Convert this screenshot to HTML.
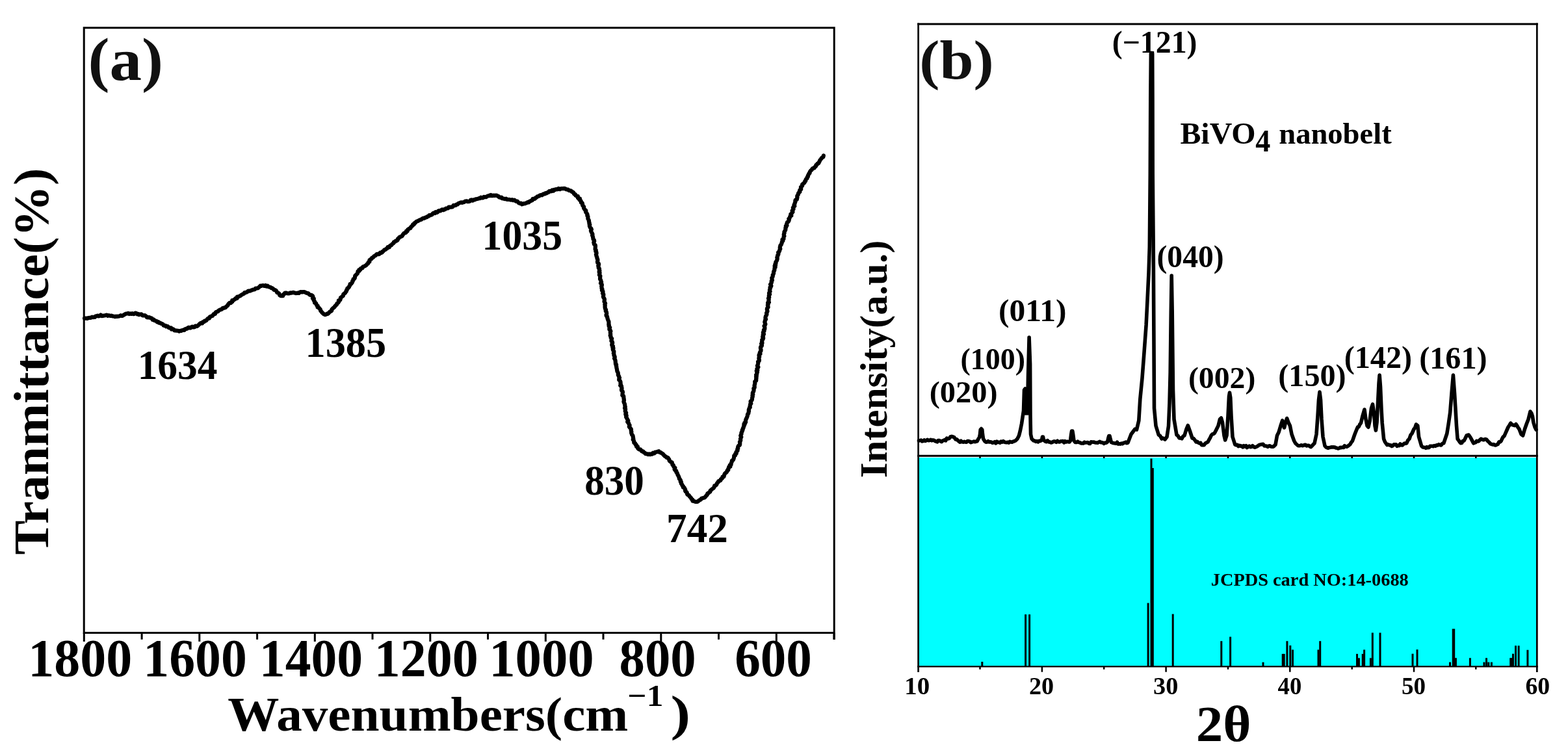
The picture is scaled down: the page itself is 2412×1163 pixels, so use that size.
<!DOCTYPE html>
<html><head><meta charset="utf-8"><title>FTIR and XRD of BiVO4 nanobelt</title>
<style>html,body{margin:0;padding:0;background:#fff;width:2412px;height:1163px;overflow:hidden}</style></head>
<body>
<svg width="2412" height="1163" viewBox="0 0 2412 1163" style="display:block">
<rect x="0" y="0" width="2412" height="1163" fill="#fff"/>
<rect x="1413.5" y="704" width="950" height="320.5" fill="#00ffff"/>
<path d="M130.0,489.7 L131.0,489.5 L132.4,489.6 L134.1,490.0 L135.8,489.0 L137.7,488.9 L139.7,488.8 L141.5,487.7 L143.0,488.1 L144.4,487.9 L146.0,487.9 L147.1,486.3 L148.8,486.2 L150.2,485.5 L152.0,486.4 L153.5,485.9 L154.9,484.5 L156.6,486.1 L158.0,486.0 L159.5,485.5 L161.1,485.5 L162.7,484.8 L164.3,484.7 L165.7,485.9 L167.4,485.2 L168.8,485.6 L170.2,485.9 L171.5,485.6 L173.3,486.4 L175.0,486.5 L176.7,487.2 L178.2,486.7 L179.8,486.9 L181.4,486.5 L183.0,486.6 L184.4,485.9 L185.7,485.2 L187.4,486.0 L188.8,485.5 L190.1,484.7 L191.4,484.0 L192.8,483.0 L194.5,482.5 L195.9,482.5 L197.2,481.9 L198.8,483.0 L200.3,482.3 L201.8,483.0 L203.4,482.1 L205.0,483.1 L206.5,482.9 L208.2,481.5 L209.7,482.0 L211.1,483.4 L212.7,482.9 L214.0,484.1 L215.7,483.5 L217.4,483.3 L218.6,484.7 L220.0,485.5 L221.8,485.2 L223.4,485.4 L224.8,486.4 L225.9,488.1 L227.6,488.4 L229.4,488.0 L230.7,488.8 L232.3,489.2 L233.8,489.9 L234.6,491.8 L236.6,491.6 L237.7,493.0 L239.3,493.5 L240.9,493.9 L241.9,495.5 L243.7,495.2 L244.6,496.7 L246.3,496.5 L247.6,497.7 L249.3,498.1 L250.7,498.9 L251.5,500.6 L253.0,501.0 L254.7,500.8 L255.6,502.3 L257.5,501.8 L258.7,502.7 L259.7,504.1 L261.3,504.4 L263.2,504.3 L263.8,506.5 L265.9,506.0 L267.2,506.9 L268.2,508.4 L270.0,508.3 L271.4,508.7 L272.9,508.7 L274.2,508.9 L275.7,509.7 L277.1,508.8 L278.8,509.0 L280.1,508.1 L281.7,507.6 L283.6,507.8 L284.8,506.3 L286.4,505.8 L288.0,505.7 L289.0,504.1 L290.6,503.6 L292.3,504.6 L293.7,504.2 L294.9,502.9 L296.3,502.6 L297.9,503.3 L299.5,503.2 L300.6,501.4 L302.7,502.0 L304.0,501.3 L305.1,500.2 L306.4,499.1 L307.5,497.8 L308.9,496.9 L311.2,497.4 L312.0,495.3 L313.9,495.1 L314.9,493.5 L316.8,493.5 L317.9,492.3 L318.8,491.0 L320.1,489.8 L322.0,489.6 L322.5,487.7 L323.8,487.0 L325.3,486.4 L326.8,485.9 L327.8,484.5 L328.8,483.0 L331.0,482.8 L331.4,481.0 L332.5,479.9 L334.0,479.5 L335.5,478.9 L336.5,477.5 L338.0,476.8 L339.6,476.3 L341.2,475.7 L342.2,474.2 L343.8,473.7 L345.7,473.6 L347.1,472.9 L347.9,471.6 L349.1,470.9 L350.4,469.7 L351.1,468.0 L352.1,466.9 L353.1,465.9 L355.2,466.1 L356.0,464.9 L357.3,464.3 L357.3,462.0 L359.3,461.9 L360.5,460.6 L361.8,460.1 L362.6,458.7 L364.6,458.8 L364.9,456.6 L366.8,456.3 L368.3,455.7 L369.9,455.0 L371.1,453.9 L372.5,453.0 L373.9,452.3 L375.4,451.7 L376.2,450.0 L377.7,449.9 L379.0,449.7 L380.7,448.8 L382.0,447.5 L383.7,447.6 L385.2,447.4 L386.5,446.6 L387.9,446.3 L389.2,445.6 L390.7,445.5 L392.1,445.1 L393.2,443.5 L395.1,443.5 L396.8,443.2 L398.1,442.1 L399.3,441.0 L400.4,439.7 L402.1,439.8 L403.6,439.2 L405.0,439.0 L406.4,439.9 L408.3,438.9 L409.7,440.5 L411.7,439.7 L413.0,441.2 L414.6,441.6 L416.2,441.8 L417.2,443.1 L418.5,443.2 L420.4,444.4 L421.4,445.9 L423.2,446.1 L424.6,446.9 L425.5,448.4 L426.3,450.0 L428.1,450.6 L429.4,451.6 L430.1,454.0 L431.9,455.1 L433.6,455.2 L435.2,455.2 L435.7,453.2 L437.4,452.2 L438.3,450.5 L439.9,450.5 L441.4,451.1 L443.1,451.3 L445.0,451.3 L446.4,450.4 L448.0,450.7 L449.6,450.3 L451.4,449.9 L453.2,450.6 L455.0,451.1 L456.5,451.0 L458.1,450.6 L459.8,450.9 L461.3,449.5 L462.9,449.1 L464.6,449.5 L466.0,449.1 L467.3,449.0 L469.4,449.6 L471.0,450.5 L472.6,450.9 L474.1,451.2 L475.6,452.8 L477.2,453.8 L479.1,453.9 L480.6,454.8 L481.4,456.3 L480.9,458.8 L482.8,459.4 L482.3,461.2 L483.1,462.6 L484.2,463.9 L484.0,465.7 L486.0,466.4 L486.6,467.9 L487.1,469.6 L488.7,470.4 L488.5,472.6 L490.4,473.3 L491.6,474.7 L492.8,476.1 L493.2,478.2 L494.5,479.3 L495.3,480.7 L496.9,482.1 L498.3,483.3 L499.8,484.1 L501.5,483.8 L503.0,482.7 L504.5,482.8 L505.9,481.2 L507.4,479.4 L508.9,478.9 L510.2,478.0 L510.4,476.1 L511.7,474.7 L512.8,473.6 L514.3,472.7 L515.2,471.2 L516.5,469.8 L518.0,468.4 L518.4,466.8 L519.9,465.9 L521.0,464.6 L520.8,462.3 L523.1,461.8 L523.7,460.1 L523.9,458.1 L525.3,457.1 L526.5,455.9 L527.9,454.9 L528.2,452.9 L529.4,451.8 L530.9,450.7 L531.7,449.2 L532.8,448.1 L533.0,446.3 L534.1,445.3 L534.3,443.5 L535.9,442.7 L536.9,441.5 L537.5,440.0 L538.5,438.7 L538.5,437.0 L540.4,436.4 L541.3,435.2 L542.1,433.9 L542.2,432.2 L543.4,431.1 L543.5,429.4 L545.2,428.7 L545.9,427.3 L546.0,425.6 L546.4,424.0 L547.7,423.0 L548.7,421.8 L549.9,420.7 L550.3,419.1 L550.5,417.4 L552.5,417.0 L552.4,415.1 L554.4,414.9 L554.8,413.1 L556.1,412.6 L557.6,412.5 L558.1,410.7 L559.4,409.9 L561.1,409.4 L562.7,408.4 L563.8,407.5 L564.7,406.2 L566.1,405.3 L566.6,403.5 L568.4,402.7 L568.4,400.3 L569.8,399.2 L571.4,398.2 L572.2,396.7 L573.9,396.1 L574.8,395.0 L575.6,393.9 L577.5,393.3 L578.5,392.1 L579.6,391.1 L580.9,390.8 L582.5,391.1 L583.9,390.6 L584.8,388.6 L586.6,388.9 L587.9,388.3 L588.7,386.8 L590.1,386.0 L591.0,384.5 L592.7,384.0 L594.1,382.9 L595.6,382.0 L596.4,380.1 L598.8,380.4 L599.4,378.8 L600.4,377.7 L602.0,377.3 L602.9,376.0 L604.0,374.9 L605.4,374.1 L605.9,372.2 L607.6,371.8 L608.7,370.6 L610.5,370.2 L611.7,369.1 L612.1,367.2 L613.5,366.5 L614.2,365.0 L615.8,364.3 L617.4,363.8 L618.7,362.9 L619.5,361.3 L620.5,360.0 L621.5,358.8 L623.2,358.3 L624.7,357.7 L624.9,355.6 L626.8,355.5 L627.0,353.5 L628.2,352.8 L629.5,351.6 L631.4,351.0 L632.1,349.3 L633.2,348.1 L634.7,347.2 L635.1,345.4 L637.0,345.1 L637.3,343.3 L638.9,342.8 L639.7,341.5 L641.1,340.5 L642.7,340.2 L643.9,339.4 L645.1,338.7 L646.4,338.2 L648.0,337.8 L649.3,336.5 L651.1,335.7 L652.5,335.8 L653.7,335.2 L654.9,334.4 L656.4,334.2 L657.6,333.1 L659.2,332.8 L660.1,331.1 L661.9,331.2 L663.4,330.5 L664.9,330.0 L665.9,328.3 L667.3,327.6 L669.1,328.0 L670.0,326.2 L672.0,326.9 L673.4,326.2 L674.3,324.4 L675.9,324.0 L677.6,324.4 L678.8,323.1 L680.2,322.3 L682.0,323.1 L683.2,322.0 L684.9,322.1 L686.0,320.5 L687.6,320.5 L689.2,320.4 L690.2,318.7 L691.8,318.5 L693.6,318.7 L695.2,318.5 L696.7,317.9 L697.5,315.9 L699.3,315.9 L700.9,315.8 L702.2,314.7 L703.8,314.5 L704.9,313.1 L706.3,312.4 L707.8,311.9 L709.2,311.3 L710.9,311.8 L712.4,311.3 L713.9,311.0 L715.2,309.9 L716.6,309.6 L718.1,309.3 L719.8,310.1 L721.4,310.0 L722.8,309.6 L723.9,307.8 L725.4,307.4 L727.2,308.6 L728.6,307.3 L730.3,307.5 L731.7,306.3 L733.4,306.1 L735.1,305.8 L736.7,305.2 L738.3,305.1 L739.7,303.7 L741.5,304.5 L743.1,304.4 L744.3,302.9 L745.9,303.0 L747.7,303.1 L749.2,302.1 L750.6,301.4 L752.2,300.9 L753.8,301.1 L755.1,299.9 L756.8,301.2 L758.2,300.9 L759.6,300.6 L760.9,300.9 L762.5,300.7 L764.1,300.7 L765.4,301.5 L766.9,302.0 L767.9,303.4 L769.5,303.8 L771.3,303.5 L772.4,305.2 L774.1,305.4 L775.5,305.8 L777.0,306.2 L778.6,305.7 L780.0,306.8 L781.6,307.0 L783.2,306.9 L784.7,307.3 L786.2,307.6 L787.9,307.2 L789.3,308.2 L791.2,307.6 L792.5,308.7 L793.9,309.7 L795.8,309.7 L797.0,311.1 L798.2,312.3 L799.8,312.9 L801.5,312.7 L802.8,314.3 L804.5,313.8 L805.8,313.1 L807.3,313.3 L808.6,312.7 L810.0,312.1 L811.3,311.2 L813.2,311.4 L814.3,310.1 L815.8,309.4 L817.3,308.6 L818.9,308.2 L819.6,305.9 L821.6,306.1 L823.0,305.7 L823.9,304.2 L825.3,303.8 L826.4,302.5 L827.9,302.0 L829.4,301.6 L830.5,300.4 L832.0,300.0 L833.9,300.3 L835.0,299.0 L836.3,298.3 L838.0,298.4 L839.1,297.2 L840.7,297.3 L842.0,296.2 L843.6,295.9 L844.7,294.1 L846.5,294.5 L848.2,294.2 L849.3,292.5 L851.3,293.6 L852.4,291.8 L854.0,292.0 L855.3,291.1 L856.8,291.3 L858.1,291.2 L859.2,290.0 L861.4,291.2 L863.1,290.1 L864.7,290.1 L866.2,290.2 L867.7,289.9 L869.2,290.0 L870.6,291.1 L872.1,291.4 L873.8,291.5 L874.9,293.0 L876.7,293.2 L878.4,293.6 L879.6,294.9 L881.1,295.5 L882.3,296.5 L883.1,298.4 L884.9,298.9 L885.5,300.6 L886.9,301.5 L888.9,301.8 L888.8,304.3 L889.7,305.3 L891.9,305.5 L891.5,307.6 L893.0,308.4 L893.8,309.8 L893.8,311.6 L895.7,312.4 L896.1,314.1 L896.1,315.8 L897.1,317.0 L898.2,318.2 L898.0,320.0 L898.9,321.4 L899.8,322.7 L901.3,323.9 L901.0,325.8 L901.9,327.3 L902.8,328.6 L903.6,330.0 L903.3,331.7 L904.4,333.0 L904.4,334.8 L904.4,336.4 L905.3,337.9 L906.0,339.3 L905.9,341.0 L906.6,342.5 L906.4,344.1 L907.3,345.5 L906.8,347.3 L907.3,348.7 L908.0,350.2 L909.3,351.5 L909.9,352.9 L908.9,354.7 L909.4,356.2 L910.1,357.7 L910.9,359.0 L911.5,360.5 L911.1,362.2 L911.8,363.6 L912.1,365.1 L912.4,366.6 L912.6,368.1 L913.9,369.4 L914.2,371.0 L913.3,372.9 L913.7,374.3 L914.0,375.8 L915.7,377.0 L915.9,378.6 L915.8,380.2 L915.7,381.8 L915.6,383.4 L916.8,384.8 L916.3,386.6 L917.4,388.0 L917.6,389.7 L916.9,391.4 L917.4,392.9 L917.6,394.4 L918.4,395.9 L918.5,397.5 L919.3,399.0 L919.4,400.7 L919.0,402.4 L919.2,404.1 L920.9,405.4 L921.1,407.0 L920.2,408.8 L920.7,410.3 L920.7,411.9 L922.0,413.3 L921.8,415.0 L922.4,416.5 L921.6,418.2 L922.6,419.7 L922.3,421.3 L921.9,423.0 L923.4,424.4 L923.2,426.0 L923.1,427.7 L923.0,429.3 L924.1,430.7 L924.4,432.3 L925.1,433.8 L924.0,435.6 L925.6,437.0 L925.9,438.6 L925.2,440.3 L925.6,441.9 L925.5,443.5 L926.5,445.0 L925.9,446.7 L927.4,448.0 L927.5,449.6 L927.0,451.3 L928.3,452.6 L928.3,454.2 L927.9,455.9 L928.2,457.4 L929.3,458.8 L929.9,460.4 L929.8,462.1 L929.5,463.9 L930.4,465.5 L931.1,466.8 L930.3,468.5 L930.8,470.0 L930.5,471.7 L930.7,473.4 L931.0,475.0 L932.1,476.6 L931.7,478.3 L932.8,479.8 L933.1,481.4 L933.2,482.9 L932.5,484.5 L932.8,485.9 L934.1,487.0 L934.1,488.1 L934.6,490.2 L934.9,491.2 L935.2,491.9 L935.6,492.9 L936.4,494.7 L936.5,498.2 L936.3,499.3 L936.9,500.2 L936.6,501.5 L937.3,502.6 L938.2,503.8 L937.4,505.3 L937.4,506.7 L938.7,508.0 L939.4,509.5 L938.8,511.2 L939.0,512.8 L939.2,514.4 L938.7,516.2 L939.6,517.7 L939.6,519.5 L941.2,520.9 L940.6,522.8 L940.4,524.5 L941.9,526.0 L942.2,527.7 L941.3,529.5 L941.3,531.2 L943.0,532.6 L942.3,534.3 L943.5,535.6 L942.7,537.3 L943.1,538.7 L944.1,539.9 L944.4,541.6 L943.8,543.4 L944.5,544.9 L944.4,546.6 L945.4,548.0 L945.8,549.5 L945.0,551.2 L945.8,552.6 L946.4,554.0 L946.7,555.4 L946.7,556.9 L947.0,558.3 L946.9,559.8 L948.1,561.0 L947.7,562.6 L948.3,564.0 L948.3,565.4 L948.7,566.8 L949.0,568.3 L949.2,569.7 L949.4,571.2 L950.3,572.6 L950.8,574.0 L950.8,575.5 L950.9,577.0 L951.9,578.3 L952.2,579.8 L953.0,581.1 L952.3,582.8 L952.2,584.4 L953.6,585.6 L954.3,586.9 L954.6,588.4 L954.5,589.9 L955.0,591.4 L954.2,593.1 L956.1,594.2 L956.0,595.8 L956.6,597.2 L956.0,598.9 L956.1,600.5 L957.5,601.8 L958.0,603.3 L957.6,605.0 L957.6,606.5 L957.3,608.1 L959.2,609.4 L959.3,611.0 L959.5,612.6 L959.7,614.3 L960.0,616.0 L959.4,617.8 L959.9,619.4 L960.8,621.0 L961.2,622.7 L961.3,624.4 L961.8,626.0 L961.0,627.8 L962.1,629.3 L961.9,630.9 L961.7,632.5 L962.5,633.9 L963.2,635.2 L962.3,636.8 L962.5,638.1 L963.7,639.1 L963.6,640.3 L963.1,641.5 L964.5,643.9 L965.5,645.8 L966.3,647.1 L965.2,648.9 L965.9,649.8 L967.0,650.4 L967.2,651.6 L967.7,652.9 L968.6,654.3 L967.8,656.3 L968.9,657.8 L970.1,659.2 L971.0,660.7 L970.7,662.6 L971.4,664.2 L971.1,665.9 L971.7,667.4 L972.2,668.9 L973.4,670.2 L973.8,671.7 L973.8,673.2 L974.3,674.6 L973.7,676.3 L974.8,677.4 L975.2,679.2 L975.3,681.0 L977.2,682.0 L977.5,683.7 L979.0,684.7 L978.9,686.7 L980.9,687.1 L980.8,689.2 L981.9,690.4 L983.1,691.4 L985.1,691.4 L986.1,692.6 L987.1,694.3 L989.2,694.4 L990.5,695.9 L992.0,696.7 L993.2,698.2 L995.2,698.2 L996.7,699.1 L998.4,698.3 L1000.0,699.2 L1001.6,698.3 L1003.4,698.6 L1004.5,696.6 L1006.6,697.3 L1007.9,695.6 L1009.9,695.4 L1011.7,694.8 L1013.6,694.2 L1014.6,695.9 L1016.5,696.1 L1017.9,697.3 L1019.6,698.2 L1020.8,699.7 L1021.9,700.8 L1023.0,702.1 L1024.6,702.5 L1025.6,703.9 L1027.5,704.1 L1028.4,705.7 L1029.3,706.8 L1029.6,708.6 L1030.7,709.6 L1031.9,710.7 L1033.7,711.4 L1034.1,713.2 L1034.5,715.0 L1035.9,715.8 L1036.1,717.4 L1037.0,718.7 L1038.4,719.8 L1037.6,722.0 L1038.6,723.4 L1040.3,724.4 L1040.3,726.3 L1041.5,727.5 L1042.1,729.0 L1042.5,730.5 L1043.5,731.8 L1044.1,733.4 L1044.7,734.9 L1044.9,736.6 L1046.2,737.7 L1047.0,739.1 L1046.7,740.8 L1048.0,741.8 L1047.8,743.9 L1049.1,745.2 L1049.5,746.8 L1050.9,747.9 L1050.8,749.6 L1052.7,750.4 L1053.4,751.9 L1054.2,753.1 L1054.0,755.0 L1054.8,756.3 L1056.4,757.2 L1056.9,758.7 L1057.1,760.4 L1058.3,761.4 L1059.9,762.1 L1060.7,763.6 L1061.9,764.9 L1063.1,766.2 L1063.8,767.9 L1065.4,768.6 L1065.5,770.7 L1067.1,770.8 L1068.7,771.6 L1070.3,772.0 L1071.9,771.9 L1073.7,771.4 L1074.9,770.1 L1076.3,769.3 L1078.0,768.4 L1079.1,766.8 L1081.1,766.3 L1082.7,765.7 L1084.3,765.2 L1085.4,763.8 L1086.5,762.5 L1087.7,761.3 L1088.3,759.3 L1089.8,758.5 L1090.9,757.4 L1092.4,756.5 L1092.7,754.5 L1094.2,753.5 L1095.5,752.3 L1097.1,751.2 L1098.1,750.2 L1098.8,748.8 L1099.1,747.2 L1101.0,746.7 L1102.2,745.7 L1102.7,744.1 L1103.5,742.7 L1104.7,741.8 L1105.2,740.2 L1107.0,739.7 L1108.4,739.0 L1108.8,737.3 L1110.1,736.4 L1111.2,735.5 L1111.4,733.6 L1113.4,733.3 L1113.9,731.7 L1114.3,730.0 L1114.9,728.7 L1116.0,727.6 L1117.3,726.7 L1118.3,725.5 L1118.6,723.8 L1120.3,723.0 L1120.2,721.1 L1121.1,719.9 L1121.2,718.3 L1123.3,717.8 L1122.7,715.6 L1124.6,714.7 L1124.6,713.0 L1125.2,711.6 L1125.8,710.2 L1125.9,708.6 L1127.6,707.6 L1128.4,706.2 L1128.8,704.7 L1129.2,703.1 L1129.2,701.2 L1131.1,700.4 L1131.0,698.4 L1132.7,697.5 L1132.4,695.5 L1133.6,694.3 L1134.6,693.1 L1134.2,691.2 L1135.3,690.0 L1135.0,688.4 L1135.4,687.0 L1136.1,685.7 L1137.9,684.7 L1138.2,683.1 L1138.2,681.4 L1137.9,679.8 L1138.9,678.5 L1139.3,677.0 L1138.9,675.2 L1139.6,673.7 L1140.3,672.2 L1139.2,670.3 L1139.8,668.8 L1140.6,667.4 L1140.4,665.8 L1141.2,664.4 L1141.9,663.1 L1141.7,661.7 L1142.7,660.7 L1142.7,659.2 L1143.7,657.9 L1143.9,656.1 L1145.0,654.2 L1144.4,652.7 L1145.8,651.9 L1145.3,650.4 L1147.1,649.5 L1146.9,647.9 L1147.1,646.5 L1147.5,645.0 L1148.3,643.6 L1148.9,642.1 L1149.5,640.6 L1149.9,639.0 L1150.0,637.3 L1151.3,635.9 L1151.5,634.2 L1152.0,632.6 L1151.7,630.8 L1152.2,629.2 L1152.8,627.8 L1153.8,626.6 L1153.5,625.0 L1153.9,623.5 L1154.1,622.0 L1155.3,620.8 L1154.7,619.0 L1154.6,617.4 L1156.2,616.1 L1156.9,614.7 L1157.0,613.1 L1157.2,611.5 L1157.8,610.0 L1157.4,608.3 L1158.3,606.9 L1157.7,605.1 L1158.2,603.6 L1159.1,602.2 L1159.5,600.7 L1159.6,599.2 L1159.3,597.5 L1160.7,596.3 L1160.7,594.7 L1160.5,593.1 L1160.9,591.6 L1161.3,590.2 L1161.3,588.6 L1161.2,587.1 L1163.0,585.8 L1163.3,584.3 L1163.0,582.8 L1163.6,581.3 L1163.0,579.7 L1163.9,578.3 L1163.1,576.7 L1164.3,575.3 L1164.2,573.8 L1165.0,572.4 L1163.8,570.7 L1165.3,569.4 L1164.4,567.6 L1165.4,566.2 L1166.4,564.7 L1164.9,562.8 L1165.6,561.3 L1166.0,559.7 L1166.3,558.2 L1166.0,556.5 L1167.8,555.1 L1167.9,553.5 L1167.4,551.8 L1167.5,550.3 L1168.2,548.8 L1167.5,547.1 L1167.7,545.6 L1169.5,544.4 L1168.7,542.8 L1169.3,541.4 L1170.3,540.1 L1170.6,538.4 L1170.1,536.6 L1169.9,534.9 L1170.3,533.4 L1171.8,532.1 L1172.0,530.5 L1171.1,528.8 L1172.5,527.6 L1171.9,525.9 L1172.4,524.5 L1172.2,522.9 L1173.7,521.6 L1174.2,520.1 L1173.1,518.3 L1174.1,516.8 L1173.6,515.3 L1175.0,514.0 L1173.8,512.2 L1174.1,510.8 L1175.5,509.4 L1174.9,507.7 L1176.2,506.3 L1176.4,504.8 L1176.3,503.2 L1175.5,501.5 L1176.7,500.1 L1177.4,498.6 L1176.7,496.9 L1176.3,495.3 L1176.8,493.9 L1177.1,492.4 L1178.1,491.1 L1177.4,489.3 L1177.6,487.7 L1178.0,486.2 L1179.0,484.8 L1179.5,483.3 L1179.0,481.7 L1179.8,480.3 L1180.5,478.9 L1180.2,477.3 L1179.8,475.7 L1180.2,474.1 L1181.6,472.8 L1181.4,471.1 L1180.9,469.3 L1181.8,467.7 L1181.1,466.2 L1182.9,465.0 L1182.1,463.4 L1182.5,462.0 L1182.7,460.5 L1182.0,458.9 L1183.2,457.4 L1182.8,455.8 L1182.9,454.3 L1184.1,452.8 L1183.0,451.1 L1183.6,449.6 L1184.6,448.2 L1183.9,446.6 L1184.2,445.1 L1184.9,443.7 L1184.5,442.1 L1186.0,440.9 L1186.4,439.6 L1185.0,437.5 L1186.1,436.0 L1186.9,434.4 L1186.6,432.6 L1187.9,431.1 L1187.5,429.3 L1187.3,427.6 L1188.3,426.2 L1188.8,424.7 L1188.7,423.0 L1189.6,421.7 L1190.1,420.3 L1190.0,418.8 L1190.3,417.4 L1191.2,416.2 L1191.4,414.3 L1191.5,412.5 L1192.6,411.1 L1191.6,409.3 L1193.0,408.1 L1192.3,406.5 L1193.5,405.2 L1193.2,403.6 L1194.0,402.2 L1195.0,400.7 L1195.4,399.3 L1195.8,397.9 L1195.3,396.1 L1196.1,394.7 L1196.1,393.0 L1197.2,391.6 L1197.5,390.0 L1197.1,388.3 L1198.5,387.0 L1199.2,385.6 L1199.4,384.1 L1200.3,382.8 L1199.7,380.8 L1200.1,379.2 L1200.4,377.6 L1201.7,376.5 L1202.1,375.0 L1202.7,373.5 L1202.9,371.9 L1204.3,370.6 L1203.5,368.6 L1205.5,367.3 L1205.3,365.8 L1205.6,364.4 L1206.4,363.1 L1205.7,361.4 L1205.9,359.9 L1206.6,358.4 L1206.4,356.8 L1207.3,355.3 L1208.2,353.9 L1208.4,352.4 L1208.3,350.7 L1209.3,349.4 L1208.8,347.7 L1210.5,346.7 L1210.0,344.8 L1210.6,343.5 L1211.0,342.0 L1212.5,341.1 L1213.3,339.8 L1213.8,338.5 L1213.3,336.6 L1214.5,335.6 L1215.0,334.2 L1215.4,332.7 L1217.3,331.8 L1216.3,329.6 L1217.7,328.4 L1218.6,327.2 L1219.5,326.0 L1218.6,324.1 L1219.6,322.8 L1220.6,321.5 L1219.8,319.6 L1220.7,318.2 L1222.3,317.0 L1221.5,315.1 L1222.4,313.7 L1222.7,312.1 L1223.4,310.7 L1223.3,309.1 L1223.7,307.6 L1225.9,306.8 L1225.9,305.4 L1226.5,303.8 L1226.2,301.9 L1226.9,300.4 L1228.0,299.1 L1228.0,297.5 L1229.0,296.2 L1230.4,295.1 L1230.0,293.4 L1230.6,292.0 L1232.2,291.2 L1232.2,289.6 L1231.9,287.9 L1233.0,287.0 L1234.2,285.7 L1234.1,283.8 L1235.3,282.7 L1236.6,281.8 L1237.7,280.7 L1238.0,279.2 L1239.2,278.3 L1239.4,276.7 L1240.1,275.4 L1241.5,274.5 L1241.6,272.8 L1242.9,271.8 L1242.8,270.0 L1243.7,268.8 L1244.2,267.3 L1245.5,266.3 L1245.7,264.7 L1246.5,263.4 L1247.4,262.2 L1248.7,261.3 L1249.5,259.8 L1250.8,258.8 L1252.6,258.4 L1253.5,256.9 L1254.9,256.0 L1255.3,254.0 L1256.7,253.2 L1257.4,251.7 L1259.3,251.2 L1259.8,249.6 L1260.7,248.1 L1261.4,246.3 L1262.6,245.0 L1263.6,243.6 L1264.7,242.4 L1266.3,241.6 L1266.6,240.4 L1266.8,239.4" fill="none" stroke="#000" stroke-width="6.2" stroke-linejoin="round" stroke-linecap="round"/>
<path d="M1413.5,678.0 L1415.1,677.6 L1416.8,677.1 L1418.4,678.9 L1420.0,678.5 L1421.7,677.0 L1423.3,678.3 L1425.0,677.6 L1426.7,676.4 L1428.3,677.7 L1430.0,677.5 L1431.7,676.3 L1433.3,677.8 L1435.0,676.9 L1436.7,677.2 L1438.3,678.5 L1440.0,679.0 L1441.7,679.9 L1443.3,677.5 L1445.0,677.6 L1446.7,678.7 L1448.3,679.6 L1450.0,678.0 L1451.6,677.6 L1453.2,676.5 L1454.8,677.7 L1456.4,674.1 L1458.0,675.0 L1460.0,674.6 L1462.0,672.0 L1464.0,671.3 L1466.0,672.0 L1468.0,672.9 L1470.0,676.0 L1471.7,675.8 L1473.3,677.4 L1475.0,679.0 L1476.7,680.2 L1478.3,678.3 L1480.0,679.8 L1481.7,680.1 L1483.3,679.4 L1485.0,680.0 L1486.7,680.2 L1488.3,678.6 L1490.0,678.6 L1491.7,679.1 L1493.3,680.6 L1495.0,680.0 L1496.6,679.6 L1498.2,679.0 L1499.8,679.7 L1501.4,679.1 L1503.0,679.0 L1504.8,675.4 L1506.5,673.0 L1507.5,668.0 L1508.2,661.0 L1509.5,659.5 L1510.8,661.0 L1511.5,668.0 L1512.5,675.0 L1515.0,679.0 L1516.7,680.1 L1518.3,680.0 L1520.0,678.7 L1521.7,679.9 L1523.3,679.9 L1525.0,680.0 L1526.7,681.3 L1528.3,680.9 L1530.0,679.6 L1531.7,681.9 L1533.3,679.2 L1535.0,680.5 L1536.7,680.2 L1538.3,681.2 L1540.0,679.1 L1541.7,680.1 L1543.3,678.6 L1545.0,680.0 L1546.7,680.5 L1548.3,680.8 L1550.0,680.2 L1551.7,681.2 L1553.3,679.4 L1555.0,680.0 L1556.8,680.1 L1558.5,679.3 L1560.2,678.8 L1562.0,678.0 L1565.0,675.0 L1567.5,670.0 L1569.5,662.0 L1571.5,652.0 L1573.0,642.0 L1574.5,632.0 L1575.5,600.0 L1577.0,598.0 L1578.0,636.0 L1579.5,600.0 L1580.5,636.0 L1581.5,580.0 L1583.1,519.0 L1584.6,560.0 L1585.0,640.0 L1585.5,668.0 L1587.0,675.0 L1590.0,678.0 L1591.7,678.0 L1593.3,679.4 L1595.0,678.5 L1596.7,679.9 L1598.3,678.4 L1600.0,678.5 L1602.5,677.0 L1603.5,672.0 L1604.5,672.0 L1605.5,677.0 L1608.0,679.0 L1609.7,679.6 L1611.4,677.7 L1613.1,679.9 L1614.9,679.8 L1616.6,680.9 L1618.3,680.5 L1620.0,679.5 L1621.7,678.9 L1623.3,679.3 L1625.0,680.3 L1626.7,678.3 L1628.3,679.8 L1630.0,680.0 L1631.7,678.9 L1633.3,678.8 L1635.0,678.6 L1636.7,680.9 L1638.3,678.8 L1640.0,680.0 L1641.7,679.2 L1643.3,679.7 L1645.0,680.0 L1646.5,678.0 L1647.6,669.0 L1648.6,663.0 L1649.8,663.0 L1650.8,669.0 L1652.0,678.0 L1654.0,680.4 L1656.0,680.5 L1657.8,679.2 L1659.5,680.5 L1661.2,680.8 L1663.0,682.0 L1664.8,681.8 L1666.5,682.0 L1668.2,680.2 L1670.0,681.0 L1671.7,680.7 L1673.3,680.5 L1675.0,682.2 L1676.7,682.5 L1678.3,679.9 L1680.0,680.0 L1681.7,680.1 L1683.3,680.1 L1685.0,681.0 L1686.7,681.0 L1688.3,681.3 L1690.0,680.2 L1691.7,679.4 L1693.3,680.7 L1695.0,680.6 L1696.7,681.2 L1698.3,682.4 L1700.0,681.0 L1701.8,681.1 L1703.5,680.0 L1704.8,674.0 L1705.8,670.5 L1707.0,670.5 L1708.0,675.0 L1709.5,680.5 L1712.0,681.5 L1713.6,681.6 L1715.2,682.0 L1716.9,682.3 L1718.5,680.3 L1720.1,683.1 L1721.8,682.8 L1723.4,683.1 L1725.0,682.0 L1726.7,682.8 L1728.3,681.3 L1730.0,681.2 L1731.7,680.1 L1733.3,681.6 L1735.0,681.0 L1740.0,668.0 L1743.0,664.0 L1746.0,660.0 L1748.5,661.0 L1751.8,647.0 L1753.8,614.0 L1757.0,581.6 L1759.5,549.0 L1763.1,500.0 L1765.0,462.0 L1767.0,420.0 L1768.3,380.0 L1769.3,268.0 L1769.8,155.0 L1770.4,82.5 L1772.7,82.5 L1773.0,155.0 L1773.2,268.0 L1774.2,380.0 L1775.5,628.0 L1778.0,655.0 L1782.3,669.0 L1784.7,670.6 L1787.0,675.0 L1788.7,673.9 L1790.3,674.7 L1792.0,676.0 L1795.0,672.0 L1797.5,655.5 L1799.0,620.0 L1800.2,572.8 L1801.3,480.0 L1802.2,424.0 L1803.2,480.0 L1804.5,600.0 L1806.0,645.0 L1810.0,669.0 L1812.0,670.4 L1814.0,674.0 L1816.0,673.9 L1818.0,674.8 L1820.0,671.0 L1822.0,670.0 L1825.0,660.0 L1827.3,654.5 L1830.0,662.0 L1834.0,674.0 L1836.0,674.4 L1838.0,676.9 L1840.0,680.0 L1841.7,679.4 L1843.3,680.9 L1845.0,682.0 L1846.8,681.2 L1848.5,684.6 L1850.2,684.5 L1852.0,684.8 L1854.0,682.1 L1856.0,680.8 L1858.0,680.0 L1859.8,676.5 L1861.5,673.6 L1863.2,669.8 L1865.0,668.0 L1866.7,667.4 L1868.3,666.2 L1870.0,663.0 L1872.0,658.9 L1874.0,655.0 L1876.5,645.0 L1878.5,643.0 L1880.5,650.0 L1883.0,670.0 L1884.7,677.0 L1887.0,670.0 L1889.0,640.0 L1890.5,610.0 L1891.5,604.0 L1892.8,612.0 L1894.0,640.0 L1896.0,672.0 L1899.8,684.0 L1901.5,684.8 L1903.3,684.3 L1905.0,686.5 L1906.7,685.3 L1908.3,686.2 L1910.0,686.0 L1911.7,687.9 L1913.3,685.8 L1915.0,687.0 L1916.7,685.6 L1918.3,688.6 L1920.0,687.3 L1921.7,686.2 L1923.3,687.6 L1925.0,687.5 L1926.7,685.7 L1928.3,687.1 L1930.0,688.3 L1931.7,687.7 L1933.3,686.9 L1935.0,686.0 L1937.0,684.4 L1939.0,683.9 L1941.0,683.5 L1943.0,683.3 L1945.0,686.0 L1947.0,686.0 L1948.6,686.3 L1950.2,687.3 L1951.8,686.1 L1953.4,685.9 L1955.0,687.0 L1956.8,687.2 L1958.5,687.1 L1960.2,685.9 L1962.0,684.0 L1964.5,670.0 L1967.0,665.0 L1970.0,655.0 L1972.7,647.0 L1975.5,658.0 L1977.5,650.0 L1979.6,643.5 L1982.0,650.0 L1984.4,655.0 L1987.0,668.0 L1990.6,678.0 L1992.8,682.0 L1995.0,684.0 L1996.7,685.5 L1998.3,685.8 L2000.0,685.5 L2001.7,684.7 L2003.3,685.7 L2005.0,685.3 L2006.7,684.3 L2008.3,684.4 L2010.0,686.0 L2011.6,685.3 L2013.2,685.3 L2014.8,686.7 L2016.4,687.6 L2018.0,686.2 L2020.0,683.9 L2022.0,682.0 L2025.0,668.0 L2027.0,640.0 L2028.5,615.0 L2030.0,603.0 L2031.5,615.0 L2033.0,645.0 L2035.0,672.0 L2038.0,686.0 L2039.8,688.0 L2041.5,688.8 L2043.2,689.3 L2045.0,688.5 L2046.7,688.2 L2048.3,687.8 L2050.0,687.9 L2051.7,687.9 L2053.3,688.0 L2055.0,689.0 L2056.7,689.2 L2058.3,689.9 L2060.0,689.6 L2061.7,688.3 L2063.3,688.7 L2065.0,688.0 L2066.7,688.5 L2068.3,685.7 L2070.0,687.0 L2071.7,687.3 L2073.3,686.4 L2075.0,685.0 L2076.8,683.6 L2078.6,680.5 L2080.4,678.4 L2084.0,668.0 L2087.0,660.5 L2088.6,657.0 L2090.2,656.5 L2091.9,652.6 L2093.5,650.7 L2096.0,640.0 L2098.9,630.0 L2101.0,645.0 L2103.0,655.0 L2104.9,657.2 L2107.0,648.0 L2109.5,628.0 L2111.5,622.0 L2113.5,635.0 L2115.0,655.0 L2116.4,662.1 L2118.0,650.0 L2119.5,620.0 L2121.0,590.0 L2122.1,577.0 L2123.5,595.0 L2125.0,630.0 L2126.2,650.7 L2128.6,675.2 L2130.3,679.6 L2132.0,682.0 L2133.9,684.5 L2135.7,683.7 L2137.6,685.0 L2139.2,684.7 L2140.9,686.4 L2142.5,685.7 L2144.1,683.9 L2145.8,683.8 L2147.4,683.9 L2149.1,686.3 L2150.7,685.0 L2152.3,685.6 L2153.9,683.0 L2155.6,684.8 L2157.2,684.9 L2158.8,683.4 L2160.4,682.0 L2162.1,682.3 L2163.7,681.7 L2165.8,677.2 L2168.0,675.0 L2169.9,669.4 L2171.9,667.0 L2175.0,660.0 L2176.7,658.0 L2178.4,653.0 L2180.8,655.0 L2182.5,672.0 L2186.6,686.0 L2188.3,687.6 L2190.0,688.3 L2191.6,688.2 L2193.2,689.3 L2194.8,687.6 L2196.4,688.8 L2198.1,688.5 L2199.7,686.3 L2201.3,686.3 L2202.9,686.2 L2204.5,686.7 L2206.2,685.5 L2208.0,686.2 L2209.8,684.8 L2211.5,685.0 L2213.2,683.7 L2215.0,684.5 L2216.9,684.9 L2218.9,682.2 L2220.8,681.8 L2225.8,667.0 L2228.5,650.0 L2230.7,634.4 L2233.0,605.0 L2235.4,577.0 L2237.5,605.0 L2238.8,626.2 L2240.5,655.0 L2242.1,675.2 L2243.7,677.3 L2245.4,679.9 L2247.0,681.8 L2248.6,681.4 L2250.2,678.2 L2251.9,678.2 L2253.5,675.2 L2256.0,670.0 L2259.2,669.0 L2262.0,673.0 L2264.3,677.4 L2266.6,681.8 L2268.2,681.2 L2269.9,680.6 L2271.5,678.3 L2273.2,679.0 L2274.8,678.5 L2276.5,676.7 L2278.3,675.2 L2280.0,676.0 L2282.3,676.7 L2284.6,675.5 L2286.8,676.2 L2289.0,679.0 L2290.8,680.4 L2292.6,682.7 L2294.4,683.4 L2296.0,684.0 L2297.7,683.6 L2299.3,684.7 L2300.9,685.0 L2302.5,683.9 L2304.2,683.3 L2305.8,679.8 L2307.5,680.0 L2309.1,678.5 L2310.7,674.8 L2312.3,672.0 L2314.0,670.7 L2315.6,667.0 L2317.8,662.0 L2320.0,657.0 L2321.9,654.2 L2323.8,651.0 L2325.9,653.3 L2328.0,654.0 L2330.0,654.6 L2332.0,652.5 L2333.6,654.8 L2335.3,657.9 L2336.9,660.0 L2340.0,668.0 L2342.6,670.0 L2345.5,660.0 L2348.3,652.0 L2351.0,645.0 L2354.0,633.0 L2356.0,636.0 L2357.3,640.0 L2358.9,650.0 L2361.0,657.0 L2363.0,661.0" fill="none" stroke="#000" stroke-width="5.6" stroke-linejoin="round" stroke-linecap="round"/>
<rect x="1509.3" y="1018.0" width="3" height="7.5" fill="#000"/>
<rect x="1576.1" y="945.2" width="3" height="80.3" fill="#000"/>
<rect x="1582.1" y="945.2" width="3" height="80.3" fill="#000"/>
<rect x="1764.6" y="927.6" width="3" height="97.9" fill="#000"/>
<rect x="1769.5" y="705.5" width="3" height="320.0" fill="#000"/>
<rect x="1771.8" y="720.0" width="3" height="305.5" fill="#000"/>
<rect x="1802.7" y="944.6" width="3" height="80.9" fill="#000"/>
<rect x="1877.3" y="986.2" width="3" height="39.3" fill="#000"/>
<rect x="1891.1" y="979.6" width="3" height="45.9" fill="#000"/>
<rect x="1941.5" y="1018.7" width="3" height="6.8" fill="#000"/>
<rect x="1971.7" y="1005.9" width="3" height="19.6" fill="#000"/>
<rect x="1973.7" y="1005.9" width="3" height="19.6" fill="#000"/>
<rect x="1978.4" y="986.2" width="3" height="39.3" fill="#000"/>
<rect x="1983.3" y="992.9" width="3" height="32.6" fill="#000"/>
<rect x="1987.0" y="999.5" width="3" height="26.0" fill="#000"/>
<rect x="2026.5" y="999.5" width="3" height="26.0" fill="#000"/>
<rect x="2029.2" y="986.2" width="3" height="39.3" fill="#000"/>
<rect x="2086.0" y="1005.9" width="3" height="19.6" fill="#000"/>
<rect x="2088.9" y="1012.3" width="3" height="13.2" fill="#000"/>
<rect x="2094.7" y="1005.9" width="3" height="19.6" fill="#000"/>
<rect x="2097.1" y="999.5" width="3" height="26.0" fill="#000"/>
<rect x="2106.9" y="1012.3" width="3" height="13.2" fill="#000"/>
<rect x="2109.8" y="973.4" width="3" height="52.1" fill="#000"/>
<rect x="2121.5" y="973.4" width="3" height="52.1" fill="#000"/>
<rect x="2171.5" y="1005.7" width="3" height="19.8" fill="#000"/>
<rect x="2178.5" y="999.2" width="3" height="26.3" fill="#000"/>
<rect x="2229.0" y="1018.6" width="3" height="6.9" fill="#000"/>
<rect x="2233.7" y="967.4" width="4.5" height="58.1" fill="#000"/>
<rect x="2237.9" y="1012.2" width="3" height="13.3" fill="#000"/>
<rect x="2259.9" y="1012.2" width="3" height="13.3" fill="#000"/>
<rect x="2281.5" y="1018.6" width="3" height="6.9" fill="#000"/>
<rect x="2285.0" y="1012.2" width="3" height="13.3" fill="#000"/>
<rect x="2288.3" y="1018.6" width="3" height="6.9" fill="#000"/>
<rect x="2292.9" y="1018.6" width="3" height="6.9" fill="#000"/>
<rect x="2322.2" y="1012.2" width="3" height="13.3" fill="#000"/>
<rect x="2323.8" y="1012.2" width="3" height="13.3" fill="#000"/>
<rect x="2326.0" y="1005.7" width="3" height="19.8" fill="#000"/>
<rect x="2330.0" y="993.3" width="3" height="32.2" fill="#000"/>
<rect x="2334.6" y="993.3" width="3" height="32.2" fill="#000"/>
<rect x="2348.4" y="999.8" width="3" height="25.7" fill="#000"/>
<path d="M129.2,41.3 V975 M127.7,42.8 H1284.7 M1283.2,41.3 V984 M127.7,973.5 H1284.7" stroke="#000" stroke-width="3" fill="none"/>
<path d="M129.3,973.5 V987 M218.1,973.5 V983.7 M306.8,973.5 V987 M395.6,973.5 V983.7 M484.3,973.5 V987 M573.0,973.5 V983.7 M661.8,973.5 V987 M750.5,973.5 V983.7 M839.3,973.5 V987 M928.0,973.5 V983.7 M1016.8,973.5 V987 M1105.5,973.5 V983.7 M1194.3,973.5 V987 M1283.0,973.5 V983.7" stroke="#000" stroke-width="3" fill="none"/>
<path d="M1412.6,35.5 V1034 M2364.3,35.5 V1034" stroke="#000" stroke-width="2.7" fill="none"/>
<path d="M1411.2,37 H2365.8 M1411.2,701.3 H2365.8" stroke="#000" stroke-width="3" fill="none"/>
<path d="M1411.2,1025.4 H2365.8" stroke="#000" stroke-width="2.1" fill="none"/>
<path d="M1507.5,1025.5 V1029.7 M1507.5,701.3 V705 M1602.9,1025.5 V1033.7 M1602.9,701.3 V705 M1698.2,1025.5 V1029.7 M1698.2,701.3 V705 M1793.6,1025.5 V1033.7 M1793.6,701.3 V705 M1889.0,1025.5 V1029.7 M1889.0,701.3 V705 M1984.3,1025.5 V1033.7 M1984.3,701.3 V705 M2079.7,1025.5 V1029.7 M2079.7,701.3 V705 M2175.0,1025.5 V1033.7 M2175.0,701.3 V705 M2270.3,1025.5 V1029.7 M2270.3,701.3 V705" stroke="#000" stroke-width="2.5" fill="none"/>
<g style="font-family:'Liberation Serif',serif;font-weight:bold">
<g transform="translate(135.59,122.58) scale(1.0768,1.0012)" fill="#111"><text x="0" y="0" font-size="92">(a)</text></g>
<g transform="translate(1414.19,120.51) scale(1.1021,0.9883)" fill="#111"><text x="0" y="0" font-size="85">(b)</text></g>
<g transform="translate(211.65,582.90) scale(0.9907,1.0350)" fill="#000"><text x="0" y="0" font-size="62">1634</text></g>
<g transform="translate(469.47,549.30) scale(1.0060,1.0450)" fill="#000"><text x="0" y="0" font-size="62">1385</text></g>
<g transform="translate(741.52,384.10) scale(0.9966,1.0650)" fill="#000"><text x="0" y="0" font-size="62">1035</text></g>
<g transform="translate(899.23,760.90) scale(0.9854,1.0550)" fill="#000"><text x="0" y="0" font-size="62">830</text></g>
<g transform="translate(1025.12,833.50) scale(1.0198,1.0325)" fill="#000"><text x="0" y="0" font-size="62">742</text></g>
<g transform="translate(350.31,1123.62) scale(0.9903,0.9342)" fill="#000"><text x="0" y="0" font-size="80">Wavenumbers(cm</text></g>
<g transform="translate(965.59,1086.30) scale(1.0696,0.9812)" fill="#000"><text x="0" y="0" font-size="48">−1</text></g>
<g transform="translate(1031.57,1123.40) scale(1.1450,0.9472)" fill="#000"><text x="0" y="0" font-size="80">)</text></g>
<g transform="translate(73.55,853.49) scale(0.9562,0.9946)" fill="#000"><g transform="rotate(-90)"><text x="0" y="0" font-size="80">Tranmittance(%)</text></g></g>
<g transform="translate(1710.66,81.46) scale(1.0176,1.0143)" fill="#000"><text x="0" y="0" font-size="47">(−121)</text></g>
<g transform="translate(1815.40,221.30) scale(0.9982,0.9882)" fill="#000"><text x="0" y="0" font-size="48">BiVO</text></g>
<g transform="translate(1931.14,233.40) scale(0.9591,1.0250)" fill="#000"><text x="0" y="0" font-size="48">4</text></g>
<g transform="translate(1967.23,221.30) scale(0.9708,0.9471)" fill="#000"><text x="0" y="0" font-size="48">nanobelt</text></g>
<g transform="translate(1535.99,493.71) scale(1.0537,1.0190)" fill="#000"><text x="0" y="0" font-size="47">(011)</text></g>
<g transform="translate(1477.55,567.50) scale(0.9765,1.0095)" fill="#000"><text x="0" y="0" font-size="47">(100)</text></g>
<g transform="translate(1429.64,618.90) scale(1.0306,1.0095)" fill="#000"><text x="0" y="0" font-size="47">(020)</text></g>
<g transform="translate(1779.47,410.51) scale(1.0133,1.0190)" fill="#000"><text x="0" y="0" font-size="47">(040)</text></g>
<g transform="translate(1827.97,596.50) scale(1.0153,1.0095)" fill="#000"><text x="0" y="0" font-size="47">(002)</text></g>
<g transform="translate(1966.25,594.41) scale(1.0255,1.0190)" fill="#000"><text x="0" y="0" font-size="47">(150)</text></g>
<g transform="translate(2067.75,566.27) scale(1.0245,1.0429)" fill="#000"><text x="0" y="0" font-size="47">(142)</text></g>
<g transform="translate(2183.15,567.18) scale(1.0255,1.0524)" fill="#000"><text x="0" y="0" font-size="47">(161)</text></g>
<g transform="translate(1363.64,735.34) scale(0.9259,0.9678)" fill="#000"><g transform="rotate(-90)"><text x="0" y="0" font-size="63">Intensity(a.u.)</text></g></g>
<g transform="translate(1862.72,901.00) scale(0.9783,0.9238)" fill="#000"><text x="0" y="0" font-size="29">JCPDS card NO:14-0688</text></g>
<g transform="translate(1839.69,1139.52) scale(1.0373,0.9759)" fill="#000"><text x="0" y="0" font-size="80">2θ</text></g>
<g transform="translate(43.30,1039.68) scale(1.0000,1.0204)" fill="#000"><text x="0" y="0" font-size="80">1800</text></g>
<g transform="translate(220.32,1039.68) scale(0.9967,1.0204)" fill="#000"><text x="0" y="0" font-size="80">1600</text></g>
<g transform="translate(398.82,1039.68) scale(0.9960,1.0204)" fill="#000"><text x="0" y="0" font-size="80">1400</text></g>
<g transform="translate(575.80,1039.68) scale(0.9993,1.0204)" fill="#000"><text x="0" y="0" font-size="80">1200</text></g>
<g transform="translate(752.14,1039.68) scale(1.0099,1.0204)" fill="#000"><text x="0" y="0" font-size="80">1000</text></g>
<g transform="translate(952.55,1039.68) scale(0.9842,1.0204)" fill="#000"><text x="0" y="0" font-size="80">800</text></g>
<g transform="translate(1130.13,1039.68) scale(0.9895,1.0204)" fill="#000"><text x="0" y="0" font-size="80">600</text></g>
<g transform="translate(1391.26,1067.60) scale(1.0812,1.0417)" fill="#000"><text x="0" y="0" font-size="36">10</text></g>
<g transform="translate(1582.88,1067.60) scale(1.0606,1.0417)" fill="#000"><text x="0" y="0" font-size="36">20</text></g>
<g transform="translate(1774.04,1067.60) scale(1.0647,1.0417)" fill="#000"><text x="0" y="0" font-size="36">30</text></g>
<g transform="translate(1965.58,1067.60) scale(1.0176,1.0417)" fill="#000"><text x="0" y="0" font-size="36">40</text></g>
<g transform="translate(2156.07,1067.60) scale(1.0294,1.0417)" fill="#000"><text x="0" y="0" font-size="36">50</text></g>
<g transform="translate(2346.45,1067.60) scale(1.0471,1.0417)" fill="#000"><text x="0" y="0" font-size="36">60</text></g>
</g>
</svg>
</body></html>
